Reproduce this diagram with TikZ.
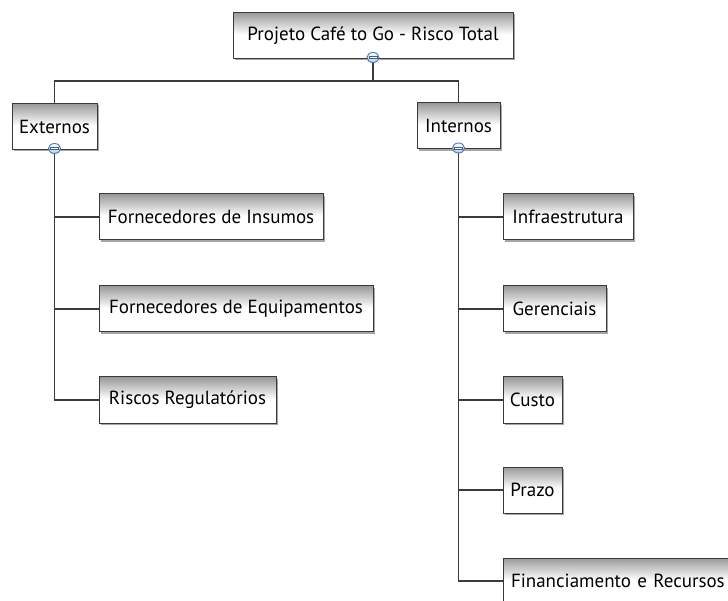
\documentclass[tikz,border=0pt]{standalone}
\usepackage{fontspec}
\setmainfont{PT Sans}
\usetikzlibrary{shadows,shapes.geometric}
\definecolor{linec}{HTML}{3A3A3A}
\definecolor{iconfill}{HTML}{B8CCE4}
\definecolor{icondraw}{HTML}{4F76A8}
\pgfdeclareverticalshading{boxshade}{100bp}{color(0bp)=(white); color(25bp)=(white); color(51bp)=(white); color(75bp)=(black!40); color(100bp)=(black!40)}
\tikzset{
  box/.style={draw=linec, line width=1pt, shading=boxshade,
    minimum height=46pt, inner sep=0pt, font=\fontsize{19}{21}\selectfont, text=black,
    drop shadow={shadow xshift=2pt, shadow yshift=-2pt, opacity=0.35, fill=black}},
  conn/.style={draw=linec, line width=1.2pt},
  minusicon/.style={ellipse, minimum width=12pt, minimum height=10pt, inner sep=0pt,
    draw=icondraw, line width=0.9pt, top color=white, bottom color=iconfill}
}
\begin{document}
\begin{tikzpicture}[x=1pt,y=-1pt]
\useasboundingbox (0,0) rectangle (728,601);
\fill[white] (0,0) rectangle (728,601);
\begin{scope}
\clip (0,0) rectangle (728,601);
% nodes
\node[box, minimum width=280pt] (root) at (373,35.5) {Projeto Café to Go - Risco Total};
\node[box, minimum width=85pt] (ext) at (54.5,126.5) {Externos};
\node[box, minimum width=83pt] (int) at (458.5,126) {Internos};
\node[box, minimum width=224pt] (ins) at (211,217) {Fornecedores de Insumos};
\node[box, minimum width=274pt] (equ) at (236,309) {Fornecedores de Equipamentos};
\node[box, minimum width=177pt] (reg) at (187.5,400) {Riscos Regulatórios};
\node[box, minimum width=130pt] (inf) at (568,217) {Infraestrutura};
\node[box, minimum width=103pt] (ger) at (554.5,309) {Gerenciais};
\node[box, minimum width=59pt] (cus) at (532.5,400) {Custo};
\node[box, minimum width=59pt] (pra) at (532.5,490) {Prazo};
\node[box, minimum width=232pt, text width=216pt, align=left] (fin) at (619,581) {Financiamento e Recursos};
% connectors
\coordinate (bar) at (0,81);
\draw[conn] (root.south) -- (root.south |- bar) -| (ext.north);
\draw[conn] (root.south |- bar) -| (int.north);
\draw[conn] (ext.south) |- (ins.west);
\draw[conn] (ext.south) |- (equ.west);
\draw[conn] (ext.south) |- (reg.west);
\draw[conn] (int.south) |- (inf.west);
\draw[conn] (int.south) |- (ger.west);
\draw[conn] (int.south) |- (cus.west);
\draw[conn] (int.south) |- (pra.west);
\draw[conn] (int.south) |- (fin.west);
% collapse icons
\foreach \n in {root,ext,int}{
  \node[minusicon] (\n-icon) at ([yshift=1.5pt]\n.south) {};
  \draw[white, line width=2.2pt] ([xshift=-3.5pt]\n-icon.center) -- ([xshift=3.5pt]\n-icon.center);
  \draw[icondraw!80!black, line width=0.5pt] ([xshift=-3.8pt,yshift=1.2pt]\n-icon.center) rectangle ([xshift=3.8pt,yshift=-1.2pt]\n-icon.center);
}
\end{scope}
\end{tikzpicture}
\end{document}
